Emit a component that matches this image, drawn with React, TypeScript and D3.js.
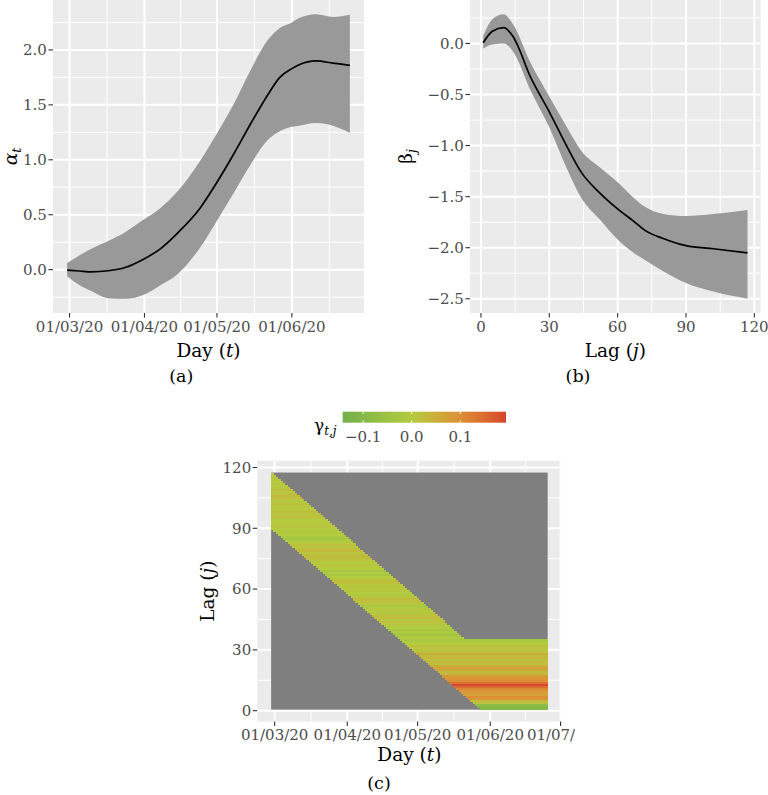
import React from "react";
import * as d3 from "d3";

// ---------- Panel (a): alpha_t ----------
const alphaDates = ["2020-02-29","2020-03-05","2020-03-10","2020-03-17","2020-03-24","2020-04-01","2020-04-07","2020-04-15","2020-04-24","2020-05-01","2020-05-08","2020-05-15","2020-05-22","2020-05-27","2020-06-01","2020-06-04","2020-06-11","2020-06-18","2020-06-25"];
const alphaMean = [-0.005,-0.012,-0.02,-0.01,0.02,0.10,0.18,0.34,0.56,0.795,1.055,1.33,1.59,1.75,1.83,1.865,1.90,1.88,1.86];
const alphaUpper = [0.06,0.13,0.19,0.26,0.34,0.46,0.55,0.72,0.99,1.24,1.51,1.82,2.09,2.20,2.25,2.29,2.325,2.30,2.32];
const alphaLower = [-0.06,-0.14,-0.195,-0.26,-0.265,-0.225,-0.15,-0.035,0.2,0.445,0.70,0.96,1.18,1.26,1.30,1.31,1.335,1.31,1.245];
const alphaYTicks = [0, 0.5, 1, 1.5, 2];
const dateTicksA = ["2020-03-01","2020-04-01","2020-05-01","2020-06-01"];

// ---------- Panel (b): beta_j ----------
const betaLags = [1,5,10,14,22,30,38,44,52,60,67,72,80,90,102,117];
const betaMean = [0.007,0.12,0.155,0.07,-0.34,-0.67,-1.02,-1.26,-1.46,-1.62,-1.74,-1.83,-1.91,-1.98,-2.01,-2.05];
const betaUpper = [0.072,0.237,0.286,0.19,-0.2,-0.52,-0.83,-1.05,-1.21,-1.36,-1.51,-1.60,-1.67,-1.69,-1.67,-1.63];
const betaLower = [-0.05,-0.01,0.0,-0.076,-0.47,-0.82,-1.24,-1.51,-1.72,-1.92,-2.05,-2.12,-2.23,-2.345,-2.43,-2.50];
const betaXTicks = [0, 30, 60, 90, 120];
const betaYTicks = [-2.5, -2, -1.5, -1, -0.5, 0];

// ---------- Panel (c): gamma_{t,j} heatmap ----------
const heatStartDate = "2020-02-29";
const heatDays = 118;
const maxLag = 117;
const bandLowStart = 90;   // lowest coloured lag on the first day
const bandHighStart = 117; // highest coloured lag on the first day
const bandHighFloor = 35;  // highest coloured lag never drops below this
const gammaByLag = [
  -0.10,-0.10,-0.08,0.02,0.03,0.09,0.10,0.07,0.08,0.09,
  0.11,0.15,0.19,0.14,0.10,0.09,0.08,0.04,0.03,0.06,
  0.07,0.05,0.02,0.03,0.02,0.04,0.03,0.05,0.02,0.01,
  0.01,0.02,0.00,-0.01,-0.02,
  0.00,-0.02,-0.03,-0.01,-0.03,
  0.00,-0.01,0.01,0.02,0.01,0.025,0.02,0.01,0.00,0.01,
  -0.01,-0.02,0.01,0.02,0.025,0.01,-0.01,0.00,0.01,0.005,
  0.01,0.005,0.02,0.025,0.01,0.00,-0.02,-0.01,-0.03,0.00,
  0.005,0.01,0.00,0.01,0.02,0.03,0.025,0.01,0.03,0.025,
  0.005,0.02,0.005,-0.01,-0.03,-0.02,0.00,-0.01,0.005,0.00,
  0.01,0.01,0.005,0.00,0.01,0.02,0.01,0.025,0.005,0.005,
  0.01,0.02,0.005,0.01,0.025,0.03,0.02,0.01,0.025,0.005,
  0.005,0.01,0.00,0.005,0.01,0.005,0.01
];
const dateTicksC = ["2020-03-01","2020-04-01","2020-05-01","2020-06-01","2020-07-01"];
const lagTicksC = [0, 30, 60, 90, 120];
const legendLimits = [-0.142, 0.194];
const legendTicks = [-0.1, 0, 0.1];
const gammaStops = [-0.142, 0, 0.1, 0.194];
const gammaColors = ["#72b04a", "#b3cb3f", "#dc8e35", "#d7432b"];

// ---------- helpers ----------
const parse = d3.utcParse("%Y-%m-%d");
const fmtDate = d3.utcFormat("%d/%m/%y");
const fmtNum = (v: number) => (v < 0 ? "\u2212" : "") + d3.format(".1f")(Math.abs(v));
const FONT = "DejaVu Serif";
const TICK_COL = "#4D4D4D";
const TICK_LEN = 4.6;
const BG = "#EBEBEB";

function expand(lo: number, hi: number, f = 0.05): [number, number] {
  const s = hi - lo;
  return [lo - s * f, hi + s * f];
}
function minorBreaks(majors: number[], dom: [number, number]) {
  const n = majors.length;
  const ext = [majors[0] - (majors[1] - majors[0]), ...majors, majors[n - 1] + (majors[n - 1] - majors[n - 2])];
  const out: number[] = [];
  for (let i = 0; i < ext.length - 1; i++) {
    const m = (ext[i] + ext[i + 1]) / 2;
    if (m >= Math.min(...dom) && m <= Math.max(...dom)) out.push(m);
  }
  return out;
}

type Box = { l: number; r: number; t: number; b: number };

function Grid({ box, xs, ys, xMaj, xMin, yMaj, yMin }: any) {
  return (
    <g>
      <rect x={box.l} y={box.t} width={box.r - box.l} height={box.b - box.t} fill={BG} />
      {xMin.map((v: number, i: number) => (
        <line key={"xm" + i} x1={xs(v)} x2={xs(v)} y1={box.t} y2={box.b} stroke="#fff" strokeWidth={1} />
      ))}
      {yMin.map((v: number, i: number) => (
        <line key={"ym" + i} y1={ys(v)} y2={ys(v)} x1={box.l} x2={box.r} stroke="#fff" strokeWidth={1} />
      ))}
      {xMaj.map((v: number, i: number) => (
        <line key={"xM" + i} x1={xs(v)} x2={xs(v)} y1={box.t} y2={box.b} stroke="#fff" strokeWidth={2} />
      ))}
      {yMaj.map((v: number, i: number) => (
        <line key={"yM" + i} y1={ys(v)} y2={ys(v)} x1={box.l} x2={box.r} stroke="#fff" strokeWidth={2} />
      ))}
    </g>
  );
}

function AxisX({ box, xs, ticks, labels, baseline }: any) {
  return (
    <g>
      {ticks.map((v: number, i: number) => (
        <g key={i}>
          <line x1={xs(v)} x2={xs(v)} y1={box.b} y2={box.b + TICK_LEN} stroke="#333" strokeWidth={1.1} />
          <text x={xs(v)} y={baseline} textAnchor="middle" fontSize={15} fill={TICK_COL} fontFamily={FONT}>
            {labels[i]}
          </text>
        </g>
      ))}
    </g>
  );
}
function AxisY({ box, ys, ticks, labels }: any) {
  return (
    <g>
      {ticks.map((v: number, i: number) => (
        <g key={i}>
          <line x1={box.l - TICK_LEN} x2={box.l} y1={ys(v)} y2={ys(v)} stroke="#333" strokeWidth={1.1} />
          <text x={box.l - TICK_LEN - 1.5} y={ys(v)} dy="0.36em" textAnchor="end" fontSize={15} fill={TICK_COL} fontFamily={FONT}>
            {labels[i]}
          </text>
        </g>
      ))}
    </g>
  );
}

export default function App() {
  // ----- Panel A -----
  const boxA: Box = { l: 53, r: 364, t: 0, b: 313 };
  const datesA = alphaDates.map((d) => parse(d)!.getTime());
  const xDomA = expand(d3.min(datesA)!, d3.max(datesA)!);
  const xA = d3.scaleLinear().domain(xDomA).range([boxA.l, boxA.r]);
  const yDomA = expand(d3.min(alphaLower)!, d3.max(alphaUpper)!);
  const yA = d3.scaleLinear().domain(yDomA).range([boxA.b, boxA.t]);
  const xMajA = dateTicksA.map((d) => parse(d)!.getTime());
  const areaA = d3
    .area<number>()
    .x((_, i) => xA(datesA[i]))
    .y0((_, i) => yA(alphaLower[i]))
    .y1((_, i) => yA(alphaUpper[i]))
    .curve(d3.curveMonotoneX);
  const lineA = d3
    .line<number>()
    .x((_, i) => xA(datesA[i]))
    .y((d) => yA(d))
    .curve(d3.curveMonotoneX);

  // ----- Panel B -----
  const boxB: Box = { l: 470, r: 760.7, t: 0, b: 313 };
  const xB = d3.scaleLinear().domain(expand(d3.min(betaLags)!, d3.max(betaLags)!)).range([boxB.l, boxB.r]);
  const yDomB = expand(d3.min(betaLower)!, d3.max(betaUpper)!);
  const yB = d3.scaleLinear().domain(yDomB).range([boxB.b, boxB.t]);
  const areaB = d3
    .area<number>()
    .x((_, i) => xB(betaLags[i]))
    .y0((_, i) => yB(betaLower[i]))
    .y1((_, i) => yB(betaUpper[i]))
    .curve(d3.curveMonotoneX);
  const lineB = d3
    .line<number>()
    .x((_, i) => xB(betaLags[i]))
    .y((d) => yB(d))
    .curve(d3.curveMonotoneX);

  // ----- Panel C -----
  const boxC: Box = { l: 257.3, r: 561.5, t: 460.7, b: 721.5 };
  const DAY = 86400000;
  const t0 = parse(heatStartDate)!.getTime();
  const dayList = d3.range(heatDays).map((i) => t0 + i * DAY);
  const lagList = d3.range(1, maxLag + 1);
  const xDomC = expand(t0 - DAY / 2, dayList[heatDays - 1] + DAY / 2);
  const xC = d3.scaleLinear().domain(xDomC).range([boxC.l, boxC.r]);
  const yDomC = expand(0.5, maxLag + 0.5);
  const yC = d3.scaleLinear().domain(yDomC).range([boxC.b, boxC.t]);
  const xMajC = dateTicksC.map((d) => parse(d)!.getTime());
  const color = d3.scaleLinear<string>().domain(gammaStops).range(gammaColors).interpolate(d3.interpolateLab).clamp(true);

  const cells: any[] = [];
  dayList.forEach((t, di) => {
    const lo = Math.max(bandLowStart - di, 1);
    const hi = Math.max(bandHighStart - di, bandHighFloor);
    lagList.forEach((j) => {
      if (j >= lo && j <= hi) cells.push({ t, j, v: gammaByLag[j - 1] });
    });
  });

  const legX = d3.scaleLinear().domain(legendLimits).range([342.7, 506]);
  const legTop = 411.7, legBot = 422.7;
  const gradStops = d3.range(0, 1.0001, 0.05).map((f) => {
    const v = legendLimits[0] + f * (legendLimits[1] - legendLimits[0]);
    return { off: f * 100 + "%", c: color(v) };
  });

  return (
    <div style={{ position: "absolute", left: 0, top: 0 }}>
      <svg width={768} height={795} style={{ display: "block", background: "#fff" }} fontFamily={FONT}>
        <defs>
          <linearGradient id="legGrad" x1="0" x2="1" y1="0" y2="0">
            {gradStops.map((s, i) => (
              <stop key={i} offset={s.off} stopColor={s.c} />
            ))}
          </linearGradient>
          <clipPath id="clipC">
            <rect x={0} y={440} width={575} height={355} />
          </clipPath>
        </defs>

        {/* ---------------- Panel A ---------------- */}
        <Grid
          box={boxA}
          xs={xA}
          ys={yA}
          xMaj={xMajA}
          xMin={minorBreaks(xMajA, xDomA)}
          yMaj={alphaYTicks}
          yMin={minorBreaks(alphaYTicks, yDomA)}
        />
        <path d={areaA(alphaMean) || ""} fill="#999999" />
        <path d={lineA(alphaMean) || ""} fill="none" stroke="#000" strokeWidth={1.7} />
        <AxisY box={boxA} ys={yA} ticks={alphaYTicks} labels={alphaYTicks.map(fmtNum)} />
        <AxisX box={boxA} xs={xA} ticks={xMajA} labels={xMajA.map((d) => fmtDate(new Date(d)))} baseline={332} />
        <text x={(boxA.l + boxA.r) / 2} y={356.7} textAnchor="middle" fontSize={18.5} fill="#000">
          Day (<tspan fontStyle="italic">t</tspan>)
        </text>
        <text transform={`translate(17,${(boxA.t + boxA.b) / 2}) rotate(-90)`} textAnchor="middle" fontSize={18.5} fill="#000">
          <tspan fontStyle="italic">α</tspan>
          <tspan fontSize={12.5} fontStyle="italic" dy={4}>t</tspan>
        </text>
        <text x={181.3} y={381.5} textAnchor="middle" fontSize={17.5} fill="#000">(a)</text>

        {/* ---------------- Panel B ---------------- */}
        <Grid
          box={boxB}
          xs={xB}
          ys={yB}
          xMaj={betaXTicks}
          xMin={minorBreaks(betaXTicks, xB.domain() as [number, number])}
          yMaj={betaYTicks}
          yMin={minorBreaks(betaYTicks, yDomB)}
        />
        <path d={areaB(betaMean) || ""} fill="#999999" />
        <path d={lineB(betaMean) || ""} fill="none" stroke="#000" strokeWidth={1.7} />
        <AxisY box={boxB} ys={yB} ticks={betaYTicks} labels={betaYTicks.map(fmtNum)} />
        <AxisX box={boxB} xs={xB} ticks={betaXTicks} labels={betaXTicks.map(String)} baseline={332} />
        <text x={(boxB.l + boxB.r) / 2} y={356.7} textAnchor="middle" fontSize={18.5} fill="#000">
          Lag (<tspan fontStyle="italic">j</tspan>)
        </text>
        <text transform={`translate(412,${(boxB.t + boxB.b) / 2}) rotate(-90)`} textAnchor="middle" fontSize={18.5} fill="#000">
          β<tspan fontSize={12.5} fontStyle="italic" dy={4}>j</tspan>
        </text>
        <text x={578} y={381.5} textAnchor="middle" fontSize={17.5} fill="#000">(b)</text>

        {/* ---------------- Panel C ---------------- */}
        <g clipPath="url(#clipC)">
          <Grid
            box={boxC}
            xs={xC}
            ys={yC}
            xMaj={xMajC}
            xMin={minorBreaks(xMajC, xDomC)}
            yMaj={lagTicksC}
            yMin={minorBreaks(lagTicksC, yDomC)}
          />
          <rect
            x={xC(t0 - DAY / 2)}
            y={yC(maxLag + 0.5)}
            width={xC(dayList[heatDays - 1] + DAY / 2) - xC(t0 - DAY / 2)}
            height={yC(0.5) - yC(maxLag + 0.5)}
            fill="#7F7F7F"
          />
          <g shapeRendering="crispEdges">
            {cells.map((c, i) => (
              <rect
                key={i}
                x={xC(c.t - DAY / 2)}
                y={yC(c.j + 0.5)}
                width={xC(c.t + DAY / 2) - xC(c.t - DAY / 2) + 0.3}
                height={yC(c.j - 0.5) - yC(c.j + 0.5) + 0.3}
                fill={color(c.v)}
              />
            ))}
          </g>
          <AxisY box={boxC} ys={yC} ticks={lagTicksC} labels={lagTicksC.map(String)} />
          <AxisX box={boxC} xs={xC} ticks={xMajC} labels={xMajC.map((d) => fmtDate(new Date(d)))} baseline={740} />
        </g>
        <text x={(boxC.l + boxC.r) / 2} y={760.7} textAnchor="middle" fontSize={18.5} fill="#000">
          Day (<tspan fontStyle="italic">t</tspan>)
        </text>
        <text transform={`translate(214,${(boxC.t + boxC.b) / 2}) rotate(-90)`} textAnchor="middle" fontSize={18.5} fill="#000">
          Lag (<tspan fontStyle="italic">j</tspan>)
        </text>
        <text x={379} y={789} textAnchor="middle" fontSize={17.5} fill="#000">(c)</text>

        {/* legend */}
        <text x={314} y={431} fontSize={17} fill="#000">
          γ<tspan fontSize={12} fontStyle="italic" dy={4}>t,j</tspan>
        </text>
        <rect x={legX(legendLimits[0])} y={legTop} width={legX(legendLimits[1]) - legX(legendLimits[0])} height={legBot - legTop} fill="url(#legGrad)" />
        {legendTicks.map((v, i) => (
          <g key={i}>
            <line x1={legX(v)} x2={legX(v)} y1={legTop} y2={legTop + 2.2} stroke="#fff" strokeWidth={1} />
            <line x1={legX(v)} x2={legX(v)} y1={legBot - 2.2} y2={legBot} stroke="#fff" strokeWidth={1} />
            <text x={legX(v)} y={441.7} textAnchor="middle" fontSize={15} fill={TICK_COL}>
              {fmtNum(v)}
            </text>
          </g>
        ))}
      </svg>
    </div>
  );
}
